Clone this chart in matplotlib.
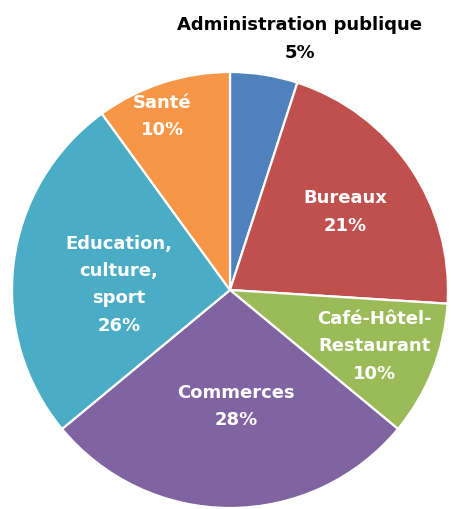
import numpy as np
import matplotlib
matplotlib.use("Agg")
import matplotlib.pyplot as plt

# Répartition par secteur (sens horaire depuis le haut)
secteurs = ["Administration publique", "Bureaux", "Café-Hôtel-\nRestaurant",
            "Commerces", "Education,\nculture,\nsport", "Santé"]
parts = [5, 21, 10, 28, 26, 10]
couleurs = ["#4F81BD", "#C0504D", "#9BBB59", "#8064A2", "#4BACC6", "#F79646"]

# position des étiquettes : fraction du rayon et décalage angulaire (degrés)
dist_lbl = [1.20, 0.64, 0.71, 0.53, 0.51, 0.86]
decal_lbl = [-6.5, 0.3, 0.6, 3.0, 4.0, 3.2]
coul_lbl = ["black", "white", "white", "white", "white", "white"]

plt.rcParams['font.family'] = ['DejaVu Sans']

fig = plt.figure(figsize=(4.51, 5.10), dpi=100)
ax = fig.add_axes([0, 0, 1, 1])

cx, cy, r = 230, 219, 218
wedges, _ = ax.pie(parts, colors=couleurs, startangle=90, counterclock=False,
                   center=(cx, cy), radius=r,
                   wedgeprops=dict(edgecolor="white", linewidth=1.6))

for w, nom, p, d, da, c in zip(wedges, secteurs, parts, dist_lbl, decal_lbl, coul_lbl):
    ang = np.deg2rad((w.theta1 + w.theta2) / 2 + da)
    x = cx + d * r * np.cos(ang)
    y = cy + d * r * np.sin(ang)
    ax.text(x, y, f"{nom}\n{p}%", ha="center", va="center", color=c,
            fontsize=13, fontweight="bold", linespacing=1.67)

ax.set_xlim(0, 451)
ax.set_ylim(0, 510)
ax.set_aspect("equal")
ax.axis("off")

fig.savefig("out.png", dpi=100)
